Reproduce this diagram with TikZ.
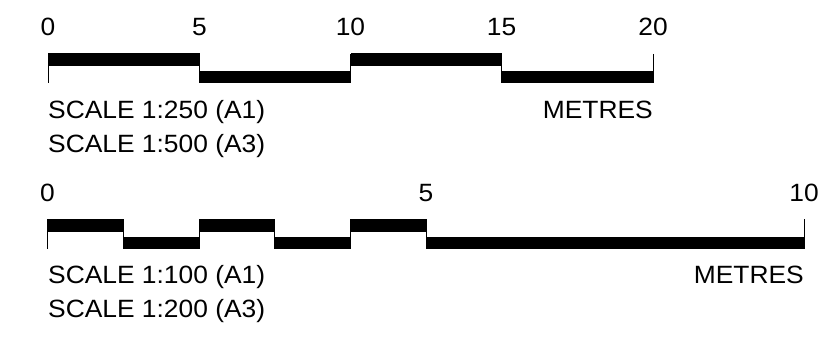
\documentclass[tikz,border=0pt]{standalone}
\usepackage{fontspec}
\setmainfont{Liberation Sans}
\newcommand{\widetext}[1]{\scalebox{1.055}[1]{#1}}
\tikzset{
  lbl/.style={inner sep=0pt,font=\fontsize{25}{30}\selectfont,text=black},
  tick/.style={lbl,anchor=base},
  note/.style={lbl,anchor=base west},
  unit/.style={lbl,anchor=base east},
  seg/.style={fill=black},
  lead/.style={draw=black,line width=1pt}
}
\begin{document}
\begin{tikzpicture}[x=1pt,y=-1pt]
\useasboundingbox (0,0) rectangle (828,337);
% upper scale
\foreach \a/\b in {48/199.5,350.5/501.5}{\path[seg] (\a,53) rectangle (\b,66);}
\foreach \a/\b in {199.5/350.5,501.5/653.5}{\path[seg] (\a,71) rectangle (\b,83);}
\foreach \x in {48,199.5,350.5,501.5,653}{\path[lead] (\x,54) -- (\x,83);}
\foreach \x/\t/\n in {48/0/a,199.5/5/b,350.5/10/c,501.5/15/d,653/20/e}{\node[tick] (top\n) at (\x,35.5) {\widetext{\t}};}
\node[note] (s1) at (48,118) {\widetext{SCALE 1:250 (A1)}};
\node[note] (s2) at (48,152.5) {\widetext{SCALE 1:500 (A3)}};
\node[unit] (m1) at (653,118) {\widetext{METRES}};
% lower scale
\foreach \a/\b in {47.5/123.5,199/274.5,350/426}{\path[seg] (\a,219) rectangle (\b,232);}
\foreach \a/\b in {123.5/199,274.5/350,426/804.5}{\path[seg] (\a,237) rectangle (\b,249);}
\foreach \x in {47.5,123.5,199,274.5,350,426,804}{\path[lead] (\x,219) -- (\x,249);}
\foreach \x/\t/\n in {47.5/0/a,426/5/b,804/10/c}{\node[tick] (bot\n) at (\x,201.5) {\widetext{\t}};}
\node[note] (s3) at (48,283.5) {\widetext{SCALE 1:100 (A1)}};
\node[note] (s4) at (48,317.5) {\widetext{SCALE 1:200 (A3)}};
\node[unit] (m2) at (804,283.5) {\widetext{METRES}};
\end{tikzpicture}
\end{document}
